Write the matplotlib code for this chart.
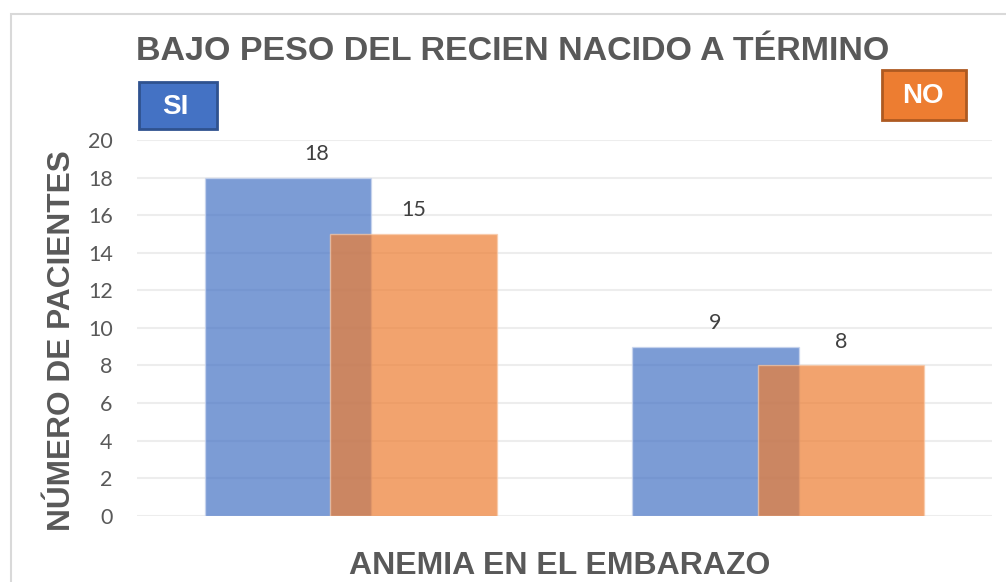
import matplotlib
matplotlib.use("Agg")
import matplotlib.pyplot as plt
from matplotlib.patches import Rectangle

categories = ["SI", "NO"]          # anemia en el embarazo (group)
series_names = ["SI", "NO"]        # bajo peso del recién nacido
si_values = [18, 9]
no_values = [15, 8]
yticks = [0, 2, 4, 6, 8, 10, 12, 14, 16, 18, 20]

W, H = 1006, 582
fig = plt.figure(figsize=(W / 100, H / 100), dpi=100)

def fx(px):
    return px / W

def fy(py):
    return 1 - py / H

# chart border
fig.patches.append(Rectangle((fx(11), -0.2), 2, fy(14) + 0.2, transform=fig.transFigure,
                             fill=False, edgecolor="#D9D9D9", linewidth=1.5, zorder=0))

ax = fig.add_axes([fx(137), fy(515.7), fx(992) - fx(137), fy(140) - fy(515.7)])

blue = "#4472C4"
orange = "#ED7D31"
x = [0, 1]
off = 0.147
width = 0.39

ax.bar([i - off for i in x], si_values, width, color=blue, alpha=0.7,
       edgecolor="#C9D5EE", linewidth=1, zorder=2)
ax.bar([i + off for i in x], no_values, width, color=orange, alpha=0.7,
       edgecolor="#F8C9A8", linewidth=1, zorder=3)

label_font = dict(family="Lato", size=15.5, color="#404040")
si_dx = [0.067, 0.0]
for i, v in enumerate(si_values):
    ax.annotate(str(v), (x[i] - off + si_dx[i], v), xytext=(0, 17), textcoords="offset points",
                ha="center", va="center", **label_font)
for i, v in enumerate(no_values):
    ax.annotate(str(v), (x[i] + off, v), xytext=(0, 17), textcoords="offset points",
                ha="center", va="center", **label_font)

ax.set_xlim(-0.5, 1.5)
ax.set_ylim(0, 20)
ax.set_yticks(yticks)
ax.set_yticklabels([str(t) for t in yticks], family="Lato", fontsize=15.5, color="#595959")
ax.set_xticks([])
ax.tick_params(axis="y", length=0, pad=17.5)
ax.grid(axis="y", color="#EDEDED", linewidth=1.5, zorder=0)
ax.set_axisbelow(True)
for s in ax.spines.values():
    s.set_visible(False)

# titles
fig.text(fx(513), fy(52), "BAJO PESO DEL RECIEN NACIDO A TÉRMINO", ha="center", va="center",
         family="Liberation Sans", fontweight="bold", fontsize=24.5, color="#595959")
fig.text(fx(62), fy(341), "NÚMERO DE PACIENTES", ha="center", va="center", rotation=90,
         family="Liberation Sans", fontweight="bold", fontsize=22.8, color="#595959")
fig.text(fx(560), fy(566), "ANEMIA EN EL EMBARAZO", ha="center", va="center",
         family="Liberation Sans", fontweight="bold", fontsize=23, color="#595959")

# legend-like boxes
fig.patches.append(Rectangle((fx(139), fy(129)), fx(217) - fx(139), fy(82) - fy(129),
                             transform=fig.transFigure, facecolor=blue, edgecolor="#2F528F",
                             linewidth=2, zorder=5))
fig.text(fx(175), fy(107), series_names[0], ha="center", va="center", family="Liberation Sans",
         fontweight="bold", fontsize=20, color="white", zorder=6)
fig.patches.append(Rectangle((fx(882), fy(120)), fx(966) - fx(882), fy(70) - fy(120),
                             transform=fig.transFigure, facecolor=orange, edgecolor="#AE5A21",
                             linewidth=2, zorder=5))
fig.text(fx(923), fy(96), series_names[1], ha="center", va="center", family="Liberation Sans",
         fontweight="bold", fontsize=20, color="white", zorder=6)

fig.savefig("out.png", dpi=100)
